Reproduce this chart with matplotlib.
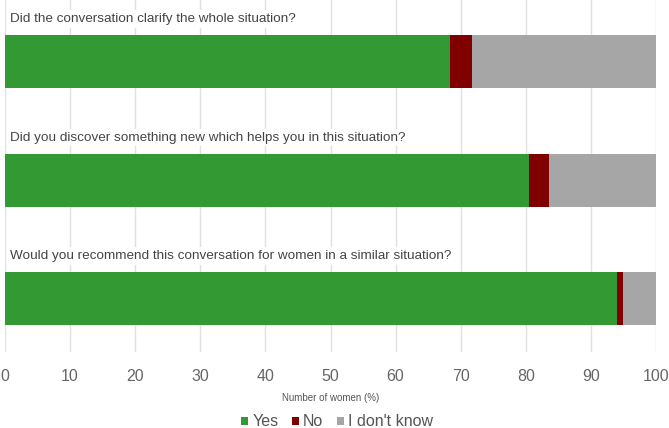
import matplotlib
matplotlib.use("Agg")
import matplotlib.pyplot as plt
from matplotlib.patches import Patch

questions = [
    "Did the conversation clarify the whole situation?",
    "Did you discover something new which helps you in this situation?",
    "Would you recommend this conversation for women in a similar situation?",
]
yes = [68.4, 80.5, 94.0]
no = [3.3, 3.1, 1.0]
dont_know = [28.3, 16.4, 5.0]
series_names = ["Yes", "No", "I don't know"]
colors = ["#339933", "#800000", "#a6a6a6"]
xticks = [0, 10, 20, 30, 40, 50, 60, 70, 80, 90, 100]

plt.rcParams['font.family'] = ['Liberation Sans', 'DejaVu Sans']

W, H = 669, 428
fig = plt.figure(figsize=(W / 100, H / 100), dpi=100)
ax = fig.add_axes([5 / W, 1 - 352 / H, 651 / W, 352 / H])

pitch = 118.5
ypos = list(range(len(questions)))
bar_h = 53 / pitch
left = [0] * len(questions)
for vals, name, c in zip([yes, no, dont_know], series_names, colors):
    ax.barh(ypos, vals, left=left, height=bar_h, color=c, label=name, zorder=2)
    left = [l + v for l, v in zip(left, vals)]

for i, q in enumerate(questions):
    ax.text(0.75, i - 42.5 / pitch, q, fontsize=9.7, color="#444444",
            va="center", ha="left", zorder=3,
            bbox=dict(facecolor="white", edgecolor="none", pad=2))

ax.set_xlim(0, 100)
ax.set_ylim((352 - 61.5) / pitch, -61.5 / pitch)
ax.set_xticks(xticks)
ax.set_yticks([])
ax.grid(axis="x", color="#e0e0e0", linewidth=1, zorder=0)
ax.set_axisbelow(True)
for s in ax.spines.values():
    s.set_visible(False)
ax.tick_params(axis="x", length=0, labelsize=11.5, labelcolor="#666666", pad=12.5)
ax.set_xlabel("Number of women (%)", fontsize=7, color="#555555", labelpad=6)

handles = [Patch(facecolor=c, label=n) for c, n in zip(colors, series_names)]
fig.legend(handles=handles, loc="center", bbox_to_anchor=(337 / W, 1 - 422 / H),
           ncol=3, frameon=False, fontsize=11.5,
           handlelength=0.45, handleheight=0.45,
           handletextpad=0.25, columnspacing=0.85, labelcolor="#555555")

fig.savefig("out.png", dpi=100)
